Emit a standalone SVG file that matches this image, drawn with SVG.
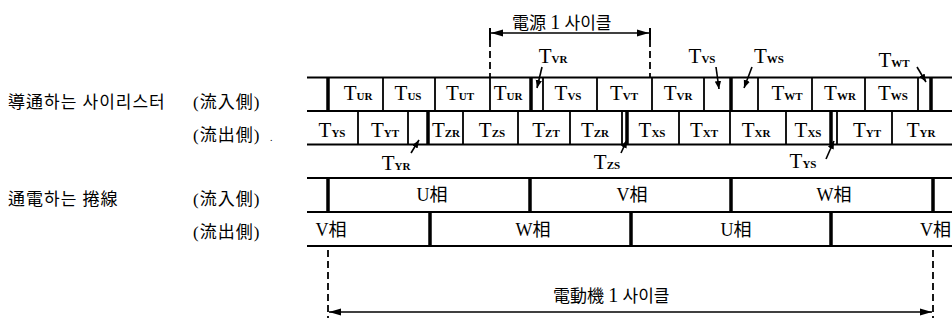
<svg xmlns="http://www.w3.org/2000/svg" width="952" height="320" viewBox="0 0 952 320">
<defs>
<marker id="dim" viewBox="0 0 12 8" refX="12" refY="4" markerWidth="12" markerHeight="8" markerUnits="userSpaceOnUse" orient="auto-start-reverse"><path d="M0,0.5 L12,4 L0,7.5 z" fill="#000"/></marker>
<marker id="pt" viewBox="0 0 10 8" refX="10" refY="4" markerWidth="8" markerHeight="7" markerUnits="userSpaceOnUse" orient="auto"><path d="M0,0 L10,4 L0,8 z" fill="#000"/></marker>
</defs>
<style>
.ln{stroke:#000;stroke-width:2;fill:none}
.thin{stroke:#000;stroke-width:1.8}
.thk{stroke:#000;stroke-width:3.5}
.dash{stroke:#000;stroke-width:1.8;stroke-dasharray:7 4;fill:none}
.arr{stroke:#000;stroke-width:1.6;fill:none}
.t{font-family:"Liberation Serif","Noto Sans CJK KR",serif;font-size:21px;fill:#000;text-anchor:middle}
.s{font-size:11px;font-weight:bold}
.k{font-family:"Liberation Serif","Noto Sans CJK KR",serif;font-size:17px;fill:#000}
.n{font-size:20px}
.ph{font-family:"Liberation Serif","Noto Sans CJK KR",serif;font-size:18px;fill:#000;text-anchor:middle}
.end{text-anchor:end}
.dot{font-size:10px}
</style>
<rect width="952" height="320" fill="#fff"/>

<g id="labels-left">
<text class="k" x="8" y="108" letter-spacing="1">導通하는 사이리스터</text>
<text class="k" x="193" y="108" letter-spacing="1">(流入側)</text>
<text class="k" x="193" y="141" letter-spacing="1">(流出側)</text>
<text class="k dot" x="270" y="141">.</text>
<text class="k" x="8" y="205" letter-spacing="1">通電하는 捲線</text>
<text class="k" x="193" y="205" letter-spacing="1">(流入側)</text>
<text class="k" x="193" y="238" letter-spacing="1">(流出側)</text>
</g>

<g id="row-thyristor-in">
<path class="ln" d="M307,77.5H952M307,111H952"/>
<path class="thin" d="M383,77.5V111M435,77.5V111M490,77.5V111M543,77.5V111M597,77.5V111M652,77.5V111M704,77.5V111M758,77.5V111M812,77.5V111M865,77.5V111M918,77.5V111"/>
<path class="thk" d="M328,77.5V111M531,77.5V111M731,77.5V111M931,77.5V111"/>
<text class="t" y="100"><tspan x="358">T</tspan><tspan class="s">UR</tspan></text>
<text class="t" y="100"><tspan x="408">T</tspan><tspan class="s">US</tspan></text>
<text class="t" y="100"><tspan x="460">T</tspan><tspan class="s">UT</tspan></text>
<text class="t" y="100"><tspan x="508">T</tspan><tspan class="s">UR</tspan></text>
<text class="t" y="100"><tspan x="568">T</tspan><tspan class="s">VS</tspan></text>
<text class="t" y="100"><tspan x="624">T</tspan><tspan class="s">VT</tspan></text>
<text class="t" y="100"><tspan x="678">T</tspan><tspan class="s">VR</tspan></text>
<text class="t" y="100"><tspan x="787">T</tspan><tspan class="s">WT</tspan></text>
<text class="t" y="100"><tspan x="840">T</tspan><tspan class="s">WR</tspan></text>
<text class="t" y="100"><tspan x="893">T</tspan><tspan class="s">WS</tspan></text>
</g>

<g id="row-thyristor-out">
<path class="ln" d="M307,144.5H952"/>
<path class="thin" d="M358,111V144.5M408,111V144.5M463,111V144.5M518,111V144.5M570,111V144.5M622,111V144.5M679,111V144.5M730,111V144.5M786,111V144.5M837,111V144.5M892,111V144.5"/>
<path class="thk" d="M428,111V144.5M627,111V144.5M831,111V144.5"/>
<text class="t" y="137"><tspan x="332">T</tspan><tspan class="s">YS</tspan></text>
<text class="t" y="137"><tspan x="385">T</tspan><tspan class="s">YT</tspan></text>
<text class="t" y="137"><tspan x="446">T</tspan><tspan class="s">ZR</tspan></text>
<text class="t" y="137"><tspan x="492">T</tspan><tspan class="s">ZS</tspan></text>
<text class="t" y="137"><tspan x="546">T</tspan><tspan class="s">ZT</tspan></text>
<text class="t" y="137"><tspan x="595">T</tspan><tspan class="s">ZR</tspan></text>
<text class="t" y="137"><tspan x="652">T</tspan><tspan class="s">XS</tspan></text>
<text class="t" y="137"><tspan x="704">T</tspan><tspan class="s">XT</tspan></text>
<text class="t" y="137"><tspan x="756">T</tspan><tspan class="s">XR</tspan></text>
<text class="t" y="137"><tspan x="808">T</tspan><tspan class="s">XS</tspan></text>
<text class="t" y="137"><tspan x="867">T</tspan><tspan class="s">YT</tspan></text>
<text class="t" y="137"><tspan x="921">T</tspan><tspan class="s">YR</tspan></text>
</g>

<g id="row-winding-in">
<path class="ln" d="M307,178H952M307,212H952"/>
<path class="thk" d="M328,178V212M530,178V212M731,178V212M933,178V212"/>
<text class="ph" x="432" y="201">U相</text>
<text class="ph" x="632" y="201">V相</text>
<text class="ph" x="834" y="201">W相</text>
</g>

<g id="row-winding-out">
<path class="ln" d="M307,246H952"/>
<path class="thk" d="M430,212V246M631,212V246M831,212V246"/>
<text class="ph" x="331" y="236">V相</text>
<text class="ph" x="533" y="236">W相</text>
<text class="ph" x="736" y="236">U相</text>
<text class="ph end" x="951" y="236">V相</text>
</g>

<g id="label-supply-cycle">
<text class="k" x="512" y="29">電源 <tspan class="n">1</tspan> 사이클</text>
</g>
<g id="label-motor-cycle">
<text class="k" x="553" y="302">電動機 <tspan class="n">1</tspan> 사이클</text>
</g>

<g id="small-labels">
<text class="t" y="63"><tspan x="553">T</tspan><tspan class="s">VR</tspan></text>
<text class="t" y="63"><tspan x="702">T</tspan><tspan class="s">VS</tspan></text>
<text class="t" y="63"><tspan x="769">T</tspan><tspan class="s">WS</tspan></text>
<text class="t" y="67"><tspan x="894">T</tspan><tspan class="s">WT</tspan></text>
<text class="t" y="170"><tspan x="396">T</tspan><tspan class="s">YR</tspan></text>
<text class="t" y="169"><tspan x="607">T</tspan><tspan class="s">ZS</tspan></text>
<text class="t" y="168"><tspan x="803">T</tspan><tspan class="s">YS</tspan></text>
</g>

<g id="connectors">
<path class="arr" d="M542,67L537,88" marker-end="url(#pt)"/>
<path class="arr" d="M716,67L719,89" marker-end="url(#pt)"/>
<path class="arr" d="M752,67L744,88" marker-end="url(#pt)"/>
<path class="arr" d="M917,67L926,82" marker-end="url(#pt)"/>
<path class="arr" d="M411,153L419,140" marker-end="url(#pt)"/>
<path class="arr" d="M621,153L627,140" marker-end="url(#pt)"/>
<path class="arr" d="M826,159L834,141" marker-end="url(#pt)"/>
<path class="ln" d="M490,28V40M650,28V40"/>
<path class="dash" d="M490,40V77M650,40V77"/>
<path class="arr" d="M491,33H649" marker-start="url(#dim)" marker-end="url(#dim)"/>
<path class="dash" d="M328,250V318M933,250V318"/>
<path class="arr" d="M329,312H932" marker-start="url(#dim)" marker-end="url(#dim)"/>
</g>
</svg>
